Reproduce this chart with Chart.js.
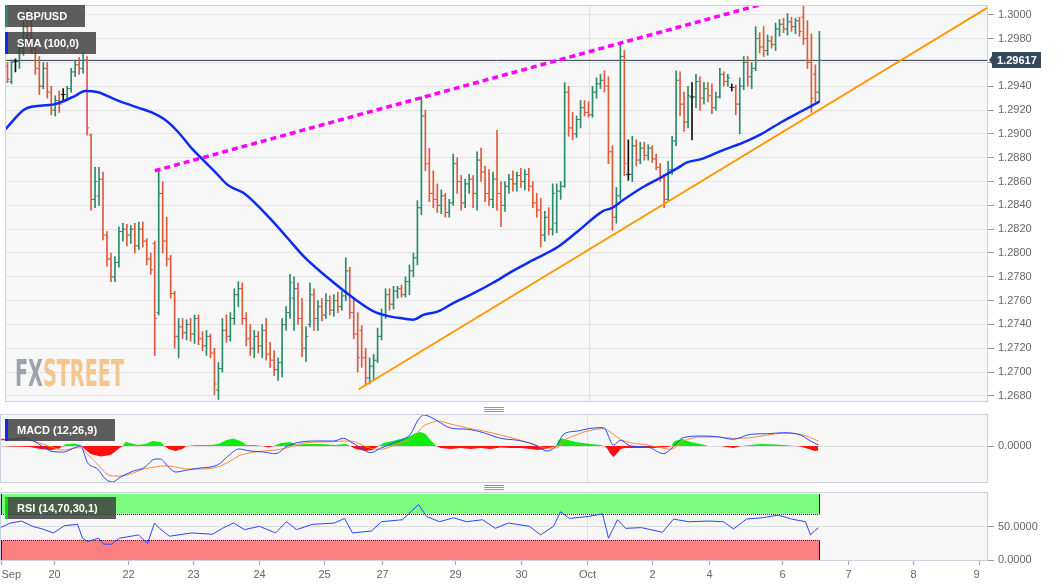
<!DOCTYPE html>
<html>
<head>
<meta charset="utf-8">
<title>GBP/USD</title>
<script src="https://cdn.jsdelivr.net/npm/chart.js@4.4.1/dist/chart.umd.min.js"></script>
<style>
  html, body { margin: 0; padding: 0; background: #fff; }
  body { position: relative; width: 1060px; height: 587px; overflow: hidden; font-family: "Liberation Sans", Arial, sans-serif; }
  canvas { position: absolute; left: 0; }
  #main { top: 0; }
  #macd { top: 407px; }
  #rsi { top: 488px; }
  .tag { position: absolute; left: 5px; height: 22px; line-height: 22px; padding-left: 9px; box-sizing: border-box; border-left: 3px solid; background: rgba(58,58,58,.82); color: #fff; font-size: 11px; font-weight: bold; white-space: nowrap; }
  .grip { position: absolute; left: 484px; width: 20px; height: 3px; border-top: 1px solid #9a9a9a; border-bottom: 1px solid #9a9a9a; }
  .grip::after { content: ''; position: absolute; left: 0; right: 0; top: 1px; border-top: 1px solid #9a9a9a; }
  #mark { position: absolute; left: 15px; top: 354px; font: bold 38px "DejaVu Sans", sans-serif; line-height: 38px; transform-origin: 0 0; white-space: nowrap; }
  #mark b { color: #9ea3aa; }
  #mark span { color: #f2c68c; }
</style>
</head>
<body>
<canvas id="main" width="1060" height="407"></canvas>
<canvas id="macd" width="1060" height="81"></canvas>
<canvas id="rsi" width="1060" height="99"></canvas>

<div id="mark"><b>FX</b><span>STREET</span></div>
<div class="tag" style="top:5px;width:80px;border-color:#2a8a6a">GBP/USD</div>
<div class="tag" style="top:32px;width:91px;border-color:#0a2cf5">SMA (100,0)</div>
<div class="tag" style="top:419px;width:110px;border-color:#0a2cf5">MACD (12,26,9)</div>
<div class="tag" style="top:497px;width:111px;border-color:#00e000">RSI (14,70,30,1)</div>
<div class="grip" style="top:407px"></div>
<div class="grip" style="top:485px"></div>

<script>
const dayTicks = [0.25, 13.5, 32, 48.25, 64.75, 81, 95.5, 113.75, 130.25, 146.75, 163, 177.25, 195.5, 212, 228.25, 244.75];
const dayLabels = ['Sep', '20', '22', '23', '24', '25', '27', '29', '30', 'Oct', '2', '4', '6', '7', '8', '9'];
const priceTicks = [1.268, 1.270, 1.272, 1.274, 1.276, 1.278, 1.280, 1.282, 1.284, 1.286, 1.288, 1.290, 1.292, 1.294, 1.296, 1.298, 1.300];

const opens = [
  1.2957,1.2944,1.2961,1.2961,1.2972,1.2990,1.2980,1.2972,1.2955,1.2940,
  1.2955,1.2935,1.2920,1.2928,1.2933,1.2933,1.2938,1.2952,1.2958,1.2955,
  1.2962,1.2899,1.2845,1.2848,1.2862,1.2815,1.2795,1.2780,1.2792,1.2818,
  1.2820,1.2815,1.2820,1.2806,1.2820,1.2810,1.2795,1.2808,1.2750,1.2850,
  1.2810,1.2795,1.2766,1.2730,1.2738,1.2733,1.2740,1.2732,1.2745,1.2728,
  1.2722,1.2730,1.2716,1.2685,1.2703,1.2735,1.2730,1.2745,1.2765,1.2770,
  1.2745,1.2728,1.2720,1.2730,1.2722,1.2735,1.2715,1.2710,1.2702,1.2708,
  1.2740,1.2750,1.2762,1.2770,1.2745,1.2720,1.2740,1.2765,1.2745,1.2755,
  1.2748,1.2760,1.2752,1.2760,1.2755,1.2764,1.2785,1.2750,1.2732,1.2735,
  1.2712,1.2695,1.2705,1.2710,1.2730,1.2748,1.2765,1.2757,1.2768,1.2770,
  1.2765,1.2776,1.2785,1.2796,1.2838,1.2915,1.2875,1.2850,1.2845,1.2840,
  1.2848,1.2834,1.2842,1.2875,1.2860,1.2842,1.2858,1.2862,1.2850,1.2878,
  1.2868,1.2850,1.2845,1.2862,1.2850,1.2840,1.2856,1.2862,1.2858,1.2865,
  1.2860,1.2866,1.2856,1.2842,1.2836,1.2815,1.2830,1.2820,1.2825,1.2852,
  1.2856,1.2935,1.2905,1.2900,1.2912,1.2922,1.2918,1.2916,1.2935,1.2942,
  1.2945,1.2940,1.2885,1.2830,1.2848,1.2965,1.2866,1.2866,1.2890,1.2878,
  1.2888,1.2882,1.2888,1.2879,1.2872,1.2863,1.2845,1.2870,1.2894,1.2945,
  1.2925,1.2910,1.2931,1.2931,1.2944,1.2930,1.2938,1.2932,1.2922,1.2931,
  1.2950,1.2944,1.2939,1.2939,1.2925,1.2940,1.2960,1.2948,1.2955,1.2980,
  1.2973,1.2970,1.2978,1.2975,1.2988,1.2992,1.2988,1.2994,1.2990,1.2995,
  1.2998,1.2980,1.2960,1.2950,1.2935
];
const highs = [
  1.2960,1.2962,1.2963,1.2976,1.2995,1.3005,1.3003,1.2978,1.2965,1.2960,
  1.2960,1.2940,1.2932,1.2936,1.2938,1.2940,1.2955,1.2962,1.2964,1.2968,
  1.2965,1.2900,1.2872,1.2872,1.2868,1.2818,1.2800,1.2797,1.2822,1.2825,
  1.2824,1.2823,1.2825,1.2826,1.2826,1.2812,1.2800,1.2810,1.2870,1.2860,
  1.2830,1.2798,1.2768,1.2745,1.2745,1.2744,1.2745,1.2748,1.2748,1.2734,
  1.2735,1.2732,1.2720,1.2708,1.2745,1.2748,1.2750,1.2770,1.2776,1.2775,
  1.2750,1.2740,1.2735,1.2734,1.2740,1.2745,1.2725,1.2718,1.2712,1.2745,
  1.2755,1.2782,1.2780,1.2775,1.2762,1.2738,1.2775,1.2770,1.2760,1.2762,
  1.2766,1.2764,1.2765,1.2767,1.2768,1.2796,1.2788,1.2762,1.2750,1.2739,
  1.2720,1.2712,1.2715,1.2737,1.2753,1.2770,1.2770,1.2772,1.2772,1.2773,
  1.2780,1.2790,1.2800,1.2844,1.2931,1.2920,1.2888,1.2869,1.2858,1.2853,
  1.2850,1.2845,1.2883,1.2880,1.2865,1.2862,1.2866,1.2865,1.2885,1.2888,
  1.2873,1.2870,1.2868,1.2903,1.2860,1.2860,1.2866,1.2869,1.2868,1.2871,
  1.2870,1.2871,1.2860,1.2850,1.2846,1.2835,1.2838,1.2858,1.2858,1.2860,
  1.2943,1.2940,1.2918,1.2915,1.2928,1.2928,1.2927,1.2940,1.2947,1.2950,
  1.2953,1.2948,1.2890,1.2855,1.2976,1.2970,1.2895,1.2898,1.2895,1.2893,
  1.2893,1.2891,1.2890,1.2883,1.2875,1.2866,1.2877,1.2898,1.2953,1.2952,
  1.2935,1.2940,1.2943,1.2950,1.2948,1.2943,1.2943,1.2942,1.2935,1.2955,
  1.2952,1.2950,1.2942,1.2941,1.2947,1.2965,1.2965,1.2960,1.2990,1.2985,
  1.2990,1.2983,1.2982,1.2993,1.2996,1.2997,1.3001,1.2998,1.2997,1.2998,
  1.3007,1.2995,1.2984,1.2958,1.2986
];
const lows = [
  1.2943,1.2942,1.2952,1.2955,1.2966,1.2975,1.2968,1.2950,1.2933,1.2938,
  1.2930,1.2916,1.2915,1.2918,1.2928,1.2928,1.2935,1.2948,1.2950,1.2951,
  1.2899,1.2836,1.2838,1.2840,1.2811,1.2789,1.2776,1.2776,1.2788,1.2810,
  1.2806,1.2808,1.2800,1.2803,1.2805,1.2790,1.2782,1.2714,1.2748,1.2800,
  1.2789,1.2762,1.2720,1.2712,1.2728,1.2727,1.2726,1.2724,1.2723,1.2718,
  1.2714,1.2712,1.2681,1.2677,1.2700,1.2725,1.2726,1.2740,1.2755,1.2740,
  1.2722,1.2714,1.2712,1.2716,1.2712,1.2710,1.2704,1.2697,1.2693,1.2696,
  1.2735,1.2745,1.2735,1.2740,1.2713,1.2709,1.2738,1.2735,1.2735,1.2743,
  1.2745,1.2748,1.2747,1.2750,1.2752,1.2760,1.2745,1.2728,1.2700,1.2704,
  1.2689,1.2690,1.2693,1.2708,1.2727,1.2745,1.2752,1.2753,1.2762,1.2763,
  1.2763,1.2765,1.2780,1.2790,1.2832,1.2869,1.2843,1.2838,1.2834,1.2833,
  1.2830,1.2830,1.2840,1.2850,1.2836,1.2838,1.2850,1.2838,1.2836,1.2860,
  1.2843,1.2840,1.2838,1.2836,1.2822,1.2835,1.2850,1.2852,1.2852,1.2855,
  1.2853,1.2852,1.2838,1.2830,1.2805,1.2810,1.2815,1.2815,1.2817,1.2845,
  1.2855,1.2898,1.2895,1.2897,1.2905,1.2915,1.2914,1.2914,1.2930,1.2938,
  1.2935,1.2875,1.2819,1.2825,1.2845,1.2865,1.2861,1.2860,1.2873,1.2875,
  1.2878,1.2878,1.2876,1.2870,1.2860,1.2838,1.2844,1.2866,1.2890,1.2915,
  1.2902,1.2905,1.2895,1.2922,1.2920,1.2925,1.2927,1.2917,1.2920,1.2930,
  1.2940,1.2940,1.2936,1.2916,1.2900,1.2937,1.2940,1.2938,1.2953,1.2968,
  1.2965,1.2966,1.2972,1.2970,1.2982,1.2985,1.2983,1.2986,1.2984,1.2982,
  1.2975,1.2955,1.2918,1.2927,1.2927
];
const closes = [
  1.2946,1.2960,1.2961,1.2972,1.2990,1.2980,1.2972,1.2955,1.2940,1.2955,
  1.2935,1.2920,1.2928,1.2925,1.2933,1.2938,1.2952,1.2958,1.2955,1.2962,
  1.2905,1.2845,1.2860,1.2862,1.2815,1.2795,1.2780,1.2792,1.2818,1.2820,
  1.2815,1.2820,1.2806,1.2820,1.2810,1.2795,1.2786,1.2745,1.2850,1.2810,
  1.2795,1.2766,1.2730,1.2738,1.2733,1.2740,1.2732,1.2745,1.2728,1.2722,
  1.2730,1.2716,1.2690,1.2703,1.2735,1.2730,1.2745,1.2765,1.2770,1.2745,
  1.2728,1.2720,1.2730,1.2722,1.2735,1.2715,1.2710,1.2702,1.2708,1.2740,
  1.2750,1.2775,1.2770,1.2745,1.2720,1.2730,1.2765,1.2745,1.2755,1.2748,
  1.2760,1.2752,1.2760,1.2755,1.2764,1.2785,1.2750,1.2732,1.2712,1.2712,
  1.2695,1.2705,1.2710,1.2730,1.2748,1.2765,1.2757,1.2768,1.2770,1.2765,
  1.2776,1.2785,1.2796,1.2838,1.2915,1.2875,1.2850,1.2845,1.2840,1.2848,
  1.2834,1.2842,1.2875,1.2860,1.2842,1.2858,1.2862,1.2850,1.2878,1.2868,
  1.2850,1.2845,1.2862,1.2850,1.2840,1.2856,1.2862,1.2858,1.2865,1.2860,
  1.2866,1.2856,1.2842,1.2836,1.2815,1.2830,1.2820,1.2850,1.2852,1.2856,
  1.2935,1.2905,1.2900,1.2912,1.2922,1.2918,1.2916,1.2935,1.2942,1.2945,
  1.2940,1.2885,1.2830,1.2848,1.2965,1.2875,1.2866,1.2890,1.2878,1.2888,
  1.2882,1.2888,1.2879,1.2872,1.2863,1.2845,1.2870,1.2894,1.2945,1.2925,
  1.2910,1.2932,1.2931,1.2944,1.2930,1.2938,1.2932,1.2922,1.2931,1.2950,
  1.2944,1.2947,1.2939,1.2925,1.2940,1.2960,1.2948,1.2955,1.2980,1.2973,
  1.2970,1.2978,1.2975,1.2988,1.2992,1.2988,1.2994,1.2990,1.2995,1.2986,
  1.2980,1.2960,1.2930,1.2935,1.29617
];

const smaLine = [
  [0,1.2904],[5,1.2921],[10,1.2924],[12.5,1.2925],[15,1.2928],[17.5,1.2932],[20,1.2936],[23.25,1.2935],
  [27.5,1.2929],[33.25,1.2922],[36.75,1.2918],[40,1.2912],[43.25,1.2902],[46.75,1.2888],[50,1.2877],
  [53.25,1.2866],[55.5,1.2858],[57.5,1.2854],[60,1.2850],[66.75,1.2828],[70.75,1.2813],[75,1.2797],
  [82.5,1.2775],[87.5,1.2762],[92.5,1.2751],[96.25,1.2747],[100,1.2745],[102.5,1.2744],[105,1.2748],
  [108.75,1.2751],[112.5,1.2758],[117.5,1.2766],[122.5,1.2775],[127.5,1.2785],[132.5,1.2794],
  [138.75,1.2805],[143.75,1.2818],[150,1.2835],[152.5,1.2838],[155,1.2844],[160,1.2855],[165,1.2864],
  [168.75,1.2871],[171.25,1.2876],[175,1.2879],[180,1.2886],[186.25,1.2894],[190,1.2900],[195,1.2910],
  [200,1.2919],[204.5,1.2927]
];
const resistanceLine = [[37.5, 1.2869], [192.5, 1.3011]];
const supportLine = [[88.75, 1.26856], [247, 1.30065]];

const macdX = [0,2.5,5.75,8.25,10.75,13.25,15.75,18,20,21.75,24.25,26.25,28,30,33.25,35.75,38.75,40,41.75,43.75,
  46.75,50,54.25,57.5,59.5,62.5,65.75,68.75,71.75,75,79.25,83.25,85.75,87.5,90,92.5,95,98,100.75,102.5,
  104.25,105.75,107.5,109.25,112.5,116.75,120.75,125,129.25,133.25,136.75,139.25,140.75,144.25,147.5,150.75,
  153.25,155,157.5,161.75,165.75,167.5,170.75,175,179.25,183.25,187.5,191.75,195.75,200,202.5,204.5];
const macdLine = [0.00067,0.00067,0.0008,0.0005,-0.0001,-0.00057,-0.0006,-0.00027,0,-0.00167,-0.0023,-0.0033,-0.0036,-0.0031,
  -0.0025,-0.0022,-0.0013,-0.0013,-0.002,-0.0026,-0.0024,-0.0022,-0.0019,-0.0008,-0.0003,-0.0005,-0.0006,-0.00077,0,0.0004,
  0.0005,0.0005,0.00077,0.00043,-0.00017,-0.00067,-0.00023,0.00027,0.00067,0.00117,0.0025,0.0031,0.0029,0.0025,0.0018,
  0.00167,0.00133,0.00077,0.00057,0.00017,-0.0005,0.00017,0.00117,0.0015,0.00177,0.00183,0.0001,0.00057,0,-0.0001,-0.00077,
  -0.00033,0.00083,0.001,0.00093,0.00067,0.00117,0.00123,0.00133,0.0011,0.0005,0.0001];
const signalLine = [0.0006,0.0006,0.0006,0.0005,0.00017,-0.00017,-0.0004,-0.00023,-0.00017,-0.00083,-0.0018,-0.0027,-0.003,-0.003,
  -0.0027,-0.0023,-0.0021,-0.002,-0.002,-0.0021,-0.0023,-0.0023,-0.0021,-0.0015,-0.001,-0.00067,-0.0005,-0.0004,-0.00017,0.00023,
  0.0004,0.00043,0.0005,0.0005,0.00017,-0.00023,-0.00033,0,0.0004,0.00067,0.00133,0.002,0.0023,0.0025,0.0022,
  0.0018,0.0015,0.0011,0.00067,0.00017,-0.00023,-0.00017,0.0005,0.00117,0.00157,0.00173,0.00117,0.00067,0.00033,0.0001,-0.00023,
  -0.00033,0.0005,0.0009,0.0009,0.00077,0.00083,0.0011,0.00127,0.00117,0.00083,0.0005];
const macdHist = [
  [0,0],[2.5,-0.00005],[7.5,-0.0001],[10,-0.0003],[12.5,-0.0004],[14.5,-0.0003],[15.5,0],[16.5,0.0002],[18.5,0.00025],
  [20,0.0001],[20.75,-0.0002],[22.5,-0.0008],[25,-0.00105],[27.5,-0.0009],[29.5,-0.0003],[30.5,0],[31.25,0.0004],
  [32.5,0.0003],[34.25,0.0001],[36.25,0.0002],[38,0.0005],[40,0.0004],[41,0],[42,-0.0003],[43.75,-0.0005],[45.5,-0.0003],
  [46.5,0],[48.75,0.0001],[52.5,0.0001],[54.5,0.0002],[56.5,0.0006],[58.25,0.00075],[60,0.0005],[61.5,0.0001],
  [63.75,0.0001],[65.5,0],[67,-0.00015],[68.25,0],[70,0.0003],[72.5,0.0004],[74,0.0001],[76.25,0.0002],[80,0.0002],
  [83.75,0.0001],[86.25,0.0002],[87.5,0],[88.75,-0.0003],[91.25,-0.0005],[93,-0.0004],[94.5,0],[95.75,0.0003],[98,0.0005],
  [100,0.0007],[102.5,0.001],[103.75,0.0013],[105,0.0014],[106.25,0.0012],[107.5,0.0006],[109,0],[110,-0.0002],
  [112.5,-0.0003],[115,-0.0002],[117.5,-0.0003],[120,-0.0002],[122.5,-0.0003],[125,-0.00015],[127.5,-0.0002],[130,-0.0002],
  [132.5,-0.0003],[134.25,-0.0004],[136.25,-0.0003],[138,-0.0001],[139,0],[139.5,0.0006],[140.5,0.00075],[143.75,0.0004],
  [147.5,0.0002],[150,0.0001],[151,0],[151.75,-0.0003],[152.5,-0.0008],[153.25,-0.0011],[154.25,-0.0007],[155,-0.0003],
  [156.25,-0.0002],[160,-0.0002],[163.75,-0.0002],[167,-0.0001],[167.75,0],[168.5,0.0005],[170.5,0.0007],[172.5,0.0004],
  [175,0.0002],[177,0],[180,0],[183.25,-0.0002],[185,0],[187.5,0.0001],[190,0.0002],[193.75,0.00015],[197.5,0.00005],
  [200,-0.00005],[202,-0.0003],[203.5,-0.0005],[204.5,-0.00045]
];

const rsiLine = [
  [0,49],[2.5,56],[5.25,59],[8,51],[10.5,47],[13.25,41],[16,52],[19.25,54],[20.5,33],[21.75,28],[24.5,33],[25.75,24],
  [27.75,24],[29.75,33],[34.5,38],[36.75,25],[38.5,56],[39.75,48],[42.25,36],[47.75,41],[53,39],[55.5,48],[58.25,56],
  [61,46],[64.75,51],[68.75,41],[71.5,58],[74,46],[78,54],[83.5,56],[86,63],[88,41],[92.75,44],[95.25,58],[100.5,61],
  [104.5,84],[106.5,66],[109.75,58],[113.25,64],[116.5,58],[120.5,61],[123.75,48],[127,56],[132.25,51],[135,38],
  [138.25,51],[140,73],[142.25,63],[147,66],[150.5,70],[152,33],[154.25,61],[156.25,48],[160.25,49],[165.5,42],
  [168.25,62],[172,58],[177.25,59],[180.75,58],[183.25,47],[186.5,62],[190.5,64],[194.5,68],[197.75,62],[201.25,58],
  [202.5,38],[203.5,44],[204.5,49]
];
const rsiUpperZone = [70, 100];
const rsiLowerZone = [0, 30];

Chart.defaults.font.family = '"Liberation Sans", Arial, sans-serif';
Chart.defaults.font.size = 11;
Chart.defaults.color = '#666';

const up = '#2b8a6c', down = '#de5a3c', flat = '#111';
const barColors = closes.map((c, i) => c > opens[i] ? up : c < opens[i] ? down : flat);
const slot = i => i + 0.5;
const toPoints = arr => arr.map(p => ({ x: p[0], y: p[1] }));
const lastPrice = closes[closes.length - 1];

function xAxis(showLabels) {
  return {
    type: 'linear', min: -0.125, max: 246.875, offset: false,
    afterBuildTicks: s => { s.ticks = dayTicks.map(v => ({ value: v })); },
    afterFit: s => { s.height = showLabels ? 26 : 0; s.paddingLeft = 0; s.paddingRight = 0; },
    border: { display: false },
    grid: {
      offset: false, drawTicks: showLabels, tickLength: 4, tickColor: '#aaa',
      color: c => (c.tick && c.tick.value === dayTicks[9]) ? '#e0e0e0' : 'rgba(0,0,0,0)'
    },
    ticks: { display: showLabels, autoSkip: false, maxRotation: 0, align: 'inner', padding: 3, callback: (v, i) => dayLabels[i] }
  };
}

function yAxis(min, max, ticks, gridColor) {
  return {
    position: 'right', min, max, beginAtZero: false,
    afterBuildTicks: s => { s.ticks = ticks.map(v => ({ value: v })); },
    afterFit: s => { s.width = 72; s.paddingTop = 0; s.paddingBottom = 0; },
    border: { display: false },
    grid: { color: gridColor, tickLength: 6, tickColor: '#999' },
    ticks: { padding: 4, callback: v => v.toFixed(4) }
  };
}

const panelFrame = {
  id: 'panelFrame',
  beforeDraw(chart) {
    const { ctx, chartArea: a } = chart;
    ctx.save();
    ctx.fillStyle = '#f7f7f7';
    ctx.fillRect(a.left, a.top, a.width, a.height);
    ctx.restore();
  },
  afterDraw(chart) {
    const { ctx, chartArea: a } = chart;
    ctx.save();
    ctx.strokeStyle = '#cbd1e2';
    ctx.lineWidth = 1;
    ctx.strokeRect(a.left + 0.5, a.top + 0.5, a.width - 1, a.height - 1);
    ctx.restore();
  }
};

const lastPriceTag = {
  id: 'lastPriceTag',
  afterDraw(chart) {
    const { ctx, chartArea: a, scales: { y } } = chart;
    const py = Math.round(y.getPixelForValue(lastPrice));
    const r = a.right;
    ctx.save();
    ctx.fillStyle = '#34495e';
    ctx.beginPath();
    ctx.moveTo(r + 1, py);
    ctx.lineTo(r + 4, py - 4);
    ctx.lineTo(r + 4, py - 8);
    ctx.lineTo(r + 53, py - 8);
    ctx.lineTo(r + 53, py + 8);
    ctx.lineTo(r + 4, py + 8);
    ctx.lineTo(r + 4, py + 4);
    ctx.closePath();
    ctx.fill();
    ctx.fillStyle = '#fff';
    ctx.font = 'bold 11px "Liberation Sans", Arial, sans-serif';
    ctx.textBaseline = 'middle';
    ctx.fillText(lastPrice.toFixed(5), r + 9, py + 1);
    ctx.restore();
  }
};

const rsiZones = {
  id: 'rsiZones',
  beforeDatasetsDraw(chart) {
    const { ctx, scales: { x, y } } = chart;
    const x0 = Math.round(x.getPixelForValue(0));
    const x1 = Math.round(x.getPixelForValue(slot(closes.length - 1))) + 0.5;
    const zones = [[rsiUpperZone, '#7cfc7c', rsiUpperZone[0]], [rsiLowerZone, '#fa7f7f', rsiLowerZone[1]]];
    ctx.save();
    zones.forEach(([z, fill, edge]) => {
      const yTop = y.getPixelForValue(z[1]);
      const yBot = y.getPixelForValue(z[0]);
      ctx.fillStyle = fill;
      ctx.fillRect(x0, yTop, x1 - x0, yBot - yTop);
      ctx.strokeStyle = '#222';
      ctx.lineWidth = 1;
      ctx.setLineDash([]);
      ctx.beginPath();
      ctx.moveTo(x0 + 0.5, yTop); ctx.lineTo(x0 + 0.5, yBot);
      ctx.moveTo(x1, yTop); ctx.lineTo(x1, yBot);
      ctx.stroke();
      const ye = Math.round(y.getPixelForValue(edge)) + 0.5;
      ctx.setLineDash([1, 1]);
      ctx.beginPath();
      ctx.moveTo(x0, ye); ctx.lineTo(x1, ye);
      ctx.stroke();
    });
    ctx.restore();
  }
};

const common = {
  responsive: false, animation: false, devicePixelRatio: 1, events: [],
  plugins: { legend: { display: false }, tooltip: { enabled: false } }
};

new Chart(document.getElementById('main'), {
  type: 'bar',
  data: {
    datasets: [
      { type: 'line', data: toPoints(resistanceLine), borderColor: '#ff00ff', borderWidth: 3.5, borderDash: [6, 4], pointRadius: 0 },
      { type: 'line', data: toPoints(supportLine), borderColor: '#ff9800', borderWidth: 2, pointRadius: 0 },
      { type: 'line', data: toPoints(smaLine), borderColor: '#0a2cf5', borderWidth: 2.5, pointRadius: 0, cubicInterpolationMode: 'monotone' },
      { type: 'scatter', data: opens.map((v, i) => ({ x: slot(i) - 0.3125, y: v })), pointStyle: 'line', pointRadius: 1, pointBorderWidth: 1, pointBorderColor: barColors },
      { type: 'scatter', data: closes.map((v, i) => ({ x: slot(i) + 0.3125, y: v })), pointStyle: 'line', pointRadius: 1, pointBorderWidth: 1, pointBorderColor: barColors },
      { type: 'bar', data: highs.map((h, i) => ({ x: slot(i), y: [lows[i], h] })), backgroundColor: barColors, barThickness: 1, borderWidth: 0 },
      { type: 'line', data: [{ x: -0.125, y: lastPrice }, { x: 246.875, y: lastPrice }], borderColor: '#2c3e5a', borderWidth: 1, pointRadius: 0 }
    ]
  },
  options: Object.assign({}, common, {
    layout: { padding: { top: 1, bottom: 2, left: 0, right: 0 } },
    scales: { x: xAxis(false), y: yAxis(1.26749, 1.30082, priceTicks, '#e4e4e4') }
  }),
  plugins: [panelFrame, lastPriceTag]
});

new Chart(document.getElementById('macd'), {
  type: 'line',
  data: {
    datasets: [
      { data: macdX.map((x, i) => ({ x, y: macdLine[i] })), borderColor: '#2a46ff', borderWidth: 1, pointRadius: 0, cubicInterpolationMode: 'monotone' },
      { data: macdX.map((x, i) => ({ x, y: signalLine[i] })), borderColor: '#ff8a3a', borderWidth: 1, pointRadius: 0, cubicInterpolationMode: 'monotone' },
      { data: toPoints(macdHist), borderColor: 'rgba(0,0,0,0)', borderWidth: 0, pointRadius: 0,
        fill: { target: 'origin', above: '#10ec10', below: '#ff1010' } }
    ]
  },
  options: Object.assign({}, common, {
    layout: { padding: { top: 7, bottom: 5, left: 0, right: 0 } },
    scales: { x: xAxis(false), y: yAxis(-0.0037, 0.0032, [0], '#dcdcdc') }
  }),
  plugins: [panelFrame]
});

new Chart(document.getElementById('rsi'), {
  type: 'line',
  data: {
    datasets: [
      { data: toPoints(rsiLine), borderColor: '#2a46ff', borderWidth: 1, pointRadius: 0, tension: 0 }
    ]
  },
  options: Object.assign({}, common, {
    layout: { padding: { top: 4, bottom: 0, left: 0, right: 0 } },
    scales: { x: xAxis(true), y: yAxis(-1.5, 103, [0, 50], '#dcdcdc') }
  }),
  plugins: [panelFrame, rsiZones]
});

const mark = document.getElementById('mark');
const w = mark.getBoundingClientRect().width;
mark.style.transform = 'scaleX(' + (109 / w) + ')';
</script>
</body>
</html>
